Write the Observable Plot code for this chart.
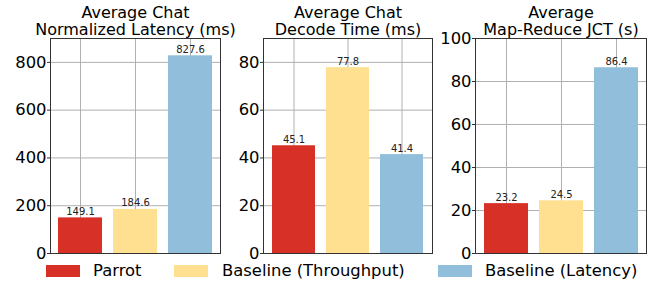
<!DOCTYPE html>
<html>
<head>
<meta charset="utf-8">
<script src="https://cdn.jsdelivr.net/npm/d3@7"></script>
<script src="https://cdn.jsdelivr.net/npm/@observablehq/plot@0.6"></script>
<style>
  html, body { margin: 0; padding: 0; background: white; }
  #chart { position: relative; width: 651px; height: 283px; font-family: "DejaVu Sans", sans-serif; }
  #chart svg { position: absolute; top: 0; }
  .sw { position: absolute; width: 34px; height: 12px; top: 265px; }
  .lt { position: absolute; top: 263px; font-size: 16.4px; line-height: 16px; white-space: nowrap; color: #000; }
</style>
</head>
<body>
<div id="chart"></div>
<script>
const categories = ["Parrot", "Baseline (Throughput)", "Baseline (Latency)"];
const colors = ["#d73027", "#fee090", "#91bfdb"];
const titles = [
  ["Average Chat", "Normalized Latency (ms)"],
  ["Average Chat", "Decode Time (ms)"],
  ["Average", "Map-Reduce JCT (s)"]
];
const latencyValues = [149.1, 184.6, 827.6];
const decodeValues = [45.1, 77.8, 41.4];
const jctValues = [23.2, 24.5, 86.4];
const yMaxes = [900, 90, 100];
const yTicks = [[0, 200, 400, 600, 800], [0, 20, 40, 60, 80], [0, 20, 40, 60, 80, 100]];

const layouts = [
  {left: 0, width: 222, ml: 50},
  {left: 215, width: 219, ml: 48},
  {left: 430, width: 218, ml: 45}
];

function panel(values, title, yMax, ticks, lay) {
  const data = categories.map((c, i) => ({category: c, value: values[i]}));
  const svg = Plot.plot({
    width: lay.width, height: 255,
    marginLeft: lay.ml, marginRight: 2, marginTop: 38, marginBottom: 2,
    style: {fontFamily: "DejaVu Sans", fontSize: "16px", color: "black", background: "transparent", overflow: "visible"},
    x: {domain: categories, paddingInner: 0.2, paddingOuter: 0.14, axis: null},
    y: {domain: [0, yMax], ticks: ticks, axis: null},
    color: {domain: categories, range: colors},
    marks: [
      Plot.gridX({stroke: "#b0b0b0", strokeOpacity: 1, strokeWidth: 1}),
      Plot.gridY(ticks, {stroke: "#b0b0b0", strokeOpacity: 1, strokeWidth: 1}),
      Plot.barY(data, {x: "category", y: "value", fill: "category"}),
      Plot.text(data, {x: "category", y: "value", text: d => d.value.toFixed(1), dy: -3, lineAnchor: "bottom", fontSize: 10, fill: "#222"}),
      Plot.axisY(ticks, {tickSize: 3, tickPadding: 1, fontSize: 16.4, stroke: "#333", label: null, tickFormat: d => String(d)}),
      Plot.frame({stroke: "#333", strokeWidth: 1}),
      Plot.text([title.join("\n")], {frameAnchor: "top", lineAnchor: "bottom", dy: -4, fontSize: 16, lineHeight: 1.06, fill: "black"})
    ]
  });
  svg.style.left = lay.left + "px";
  return svg;
}

const chart = document.getElementById("chart");
const allValues = [latencyValues, decodeValues, jctValues];
allValues.forEach((v, i) => chart.appendChild(panel(v, titles[i], yMaxes[i], yTicks[i], layouts[i])));

const legendSwatchX = [46, 174, 438];
const legendTextX = [93, 222, 485];
categories.forEach((c, i) => {
  const sw = document.createElement("div");
  sw.className = "sw";
  sw.style.left = legendSwatchX[i] + "px";
  sw.style.background = colors[i];
  chart.appendChild(sw);
  const t = document.createElement("div");
  t.className = "lt";
  t.style.left = legendTextX[i] + "px";
  t.textContent = c;
  chart.appendChild(t);
});
</script>
</body>
</html>
